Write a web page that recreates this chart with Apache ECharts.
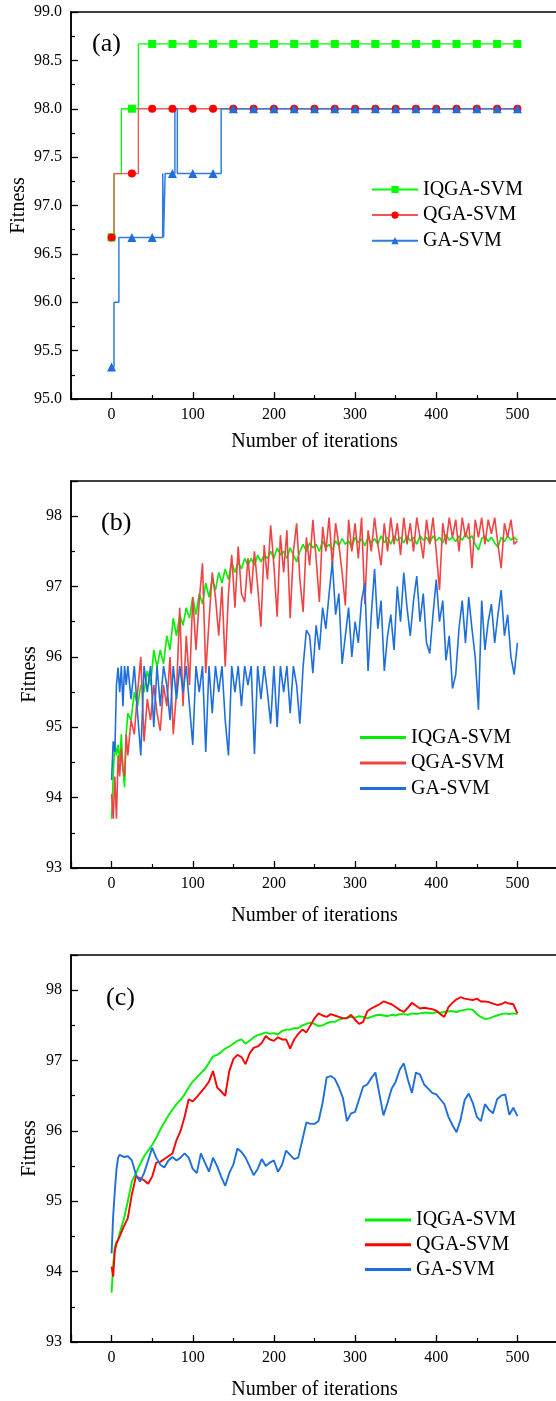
<!DOCTYPE html>
<html><head><meta charset="utf-8">
<script src="https://cdn.jsdelivr.net/npm/echarts@6/dist/echarts.min.js"></script>
<style>html,body{margin:0;padding:0;background:#fff}#c{width:556px;height:1401px}</style>
</head><body><div id="c"></div>
<script>
// ---------- names ----------
const algoNames = ['IQGA-SVM', 'QGA-SVM', 'GA-SVM'];
const panelLabels = ['(a)', '(b)', '(c)'];
const xAxisTitle = 'Number of iterations';
const yAxisTitle = 'Fitness';

// ---------- panel (a): step curves (x where a level starts, level) ----------
const aIqgaStepX = [0, 3, 12, 33, 500];
const aIqgaStepY = [96.67, 97.33, 98.0, 98.67, 98.67];
const aQgaStepX = [0, 3, 33, 500];
const aQgaStepY = [96.67, 97.33, 98.0, 98.0];
const aGaStepX = [0, 3, 9, 63, 64, 66, 78, 81, 135, 500];
const aGaStepY = [95.33, 96.0, 96.67, 97.33, 96.67, 97.33, 98.0, 97.33, 98.0, 98.0];
// marker positions (every 25 iterations) and their values
const aMarkX = [0, 25, 50, 75, 100, 125, 150, 175, 200, 225, 250, 275, 300, 325, 350, 375, 400, 425, 450, 475, 500];
const aIqgaMark = [96.67, 98.0, 98.67, 98.67, 98.67, 98.67, 98.67, 98.67, 98.67, 98.67, 98.67, 98.67, 98.67, 98.67, 98.67, 98.67, 98.67, 98.67, 98.67, 98.67, 98.67];
const aQgaMark = [96.67, 97.33, 98.0, 98.0, 98.0, 98.0, 98.0, 98.0, 98.0, 98.0, 98.0, 98.0, 98.0, 98.0, 98.0, 98.0, 98.0, 98.0, 98.0, 98.0, 98.0];
const aGaMark = [95.33, 96.67, 96.67, 97.33, 97.33, 97.33, 98.0, 98.0, 98.0, 98.0, 98.0, 98.0, 98.0, 98.0, 98.0, 98.0, 98.0, 98.0, 98.0, 98.0, 98.0];

// ---------- panel (b) ----------
const bX = [0,2,4,6,8,10,12,14,16,18,20,24,28,32,36,40,44,48,52,56,60,64,68,72,76,80,84,88,92,96,100,104,108,112,116,120,124,128,132,136,140,144,148,152,156,160,164,168,172,176,180,184,188,192,196,200,204,208,212,216,220,224,228,232,236,240,244,248,252,256,260,264,268,272,276,280,284,288,292,296,300,304,308,312,316,320,324,328,332,336,340,344,348,352,356,360,364,368,372,376,380,384,388,392,396,400,404,408,412,416,420,424,428,432,436,440,444,448,452,456,460,464,468,472,476,480,484,488,492,496,500];
const bIqga = [93.7,94.3,94.8,94.6,94.75,94.5,94.9,94.4,94.15,94.9,95.2,
95.1,95.5,95.3,95.6,95.5,95.8,95.6,96.1,95.85,96.1,95.9,96.3,96.1,96.55,96.3,96.6,96.45,96.7,96.55,96.85,
96.6,96.9,96.75,97.05,96.85,97.1,96.95,97.2,97.05,97.25,97.1,97.35,97.2,97.35,97.25,97.4,97.3,97.4,97.3,97.45,97.35,97.45,97.4,97.5,97.4,
97.55,97.45,97.5,97.4,97.55,97.45,97.35,97.5,97.6,97.5,97.62,97.55,97.6,97.5,97.65,97.55,97.6,97.52,97.65,97.58,97.68,97.6,97.65,97.55,97.7,
97.62,97.68,97.58,97.7,97.62,97.68,97.6,97.72,97.62,97.7,97.6,97.72,97.65,97.7,97.62,97.72,97.65,97.7,97.6,97.72,97.66,97.7,97.62,97.72,97.65,
97.7,97.62,97.74,97.66,97.7,97.64,97.72,97.66,97.75,97.68,97.72,97.6,97.52,97.68,97.72,97.64,97.7,97.62,97.56,97.7,97.64,97.72,97.66,97.7,97.66];
const bQga = [94.05,93.7,94.3,93.7,94.6,94.3,94.7,94.4,94.3,94.9,94.6,
95.1,94.9,95.5,96.0,94.8,95.4,95.1,95.6,95.2,94.95,95.6,95.3,96.0,94.9,95.5,96.7,95.3,96.3,95.6,96.85,
96.1,96.8,97.33,95.77,96.5,97.2,96.85,96.3,97.0,95.86,96.9,97.45,96.7,97.57,96.9,96.78,97.4,96.9,97.5,97.0,96.43,97.59,97.1,97.87,97.3,
96.57,97.73,97.2,97.8,96.55,97.5,97.9,97.1,96.64,97.7,97.3,97.95,97.4,96.78,97.85,97.5,97.98,97.3,97.9,97.6,97.2,96.73,97.95,97.5,97.9,
97.4,97.98,96.75,97.8,97.5,97.98,97.6,97.3,97.9,97.5,97.98,97.6,97.9,97.45,97.98,97.6,97.9,97.5,97.98,97.7,97.4,97.95,97.6,97.98,97.5,
96.95,97.9,97.6,97.98,97.7,97.95,97.5,97.98,97.7,97.9,97.26,97.95,97.7,97.98,97.6,97.95,97.75,97.98,97.6,97.26,97.9,97.7,97.95,97.6,97.65];
const bGa = [94.25,94.8,94.65,95.6,95.85,95.5,95.87,95.3,95.87,95.6,95.87,
95.4,95.87,95.2,94.6,95.87,95.5,95.87,95.0,95.87,95.3,95.87,95.6,95.1,95.87,95.4,95.87,95.5,95.87,95.3,94.75,
95.87,95.5,95.87,94.65,95.87,95.2,95.87,95.5,95.87,95.1,94.6,95.87,95.5,95.87,95.3,95.87,95.6,95.87,94.62,95.87,95.4,95.87,95.5,95.05,95.87,
95.0,95.87,95.5,95.87,95.2,95.87,95.6,95.05,95.87,96.38,96.3,95.77,96.45,96.1,96.7,96.4,96.9,97.35,96.6,96.9,95.9,96.3,96.7,96.0,96.5,
96.2,96.8,97.05,95.8,96.6,97.25,96.4,96.8,95.8,96.3,96.6,96.1,97.0,96.5,97.2,96.7,96.3,96.8,97.15,96.5,96.9,96.2,96.05,96.6,97.1,
96.5,96.8,95.95,96.3,95.55,95.75,96.4,96.8,96.2,96.85,96.4,96.0,95.25,96.8,96.1,96.5,96.75,96.2,96.6,96.95,96.3,96.6,96.0,95.75,96.2];

// ---------- panel (c) ----------
const cX = [0,2,4,6,8,10,15,20,25,30,35,40,45,50,55,60,65,70,75,80,85,90,95,100,105,110,115,120,125,130,135,140,145,150,155,160,165,170,175,180,185,190,195,200,205,210,215,220,225,230,235,240,245,250,255,260,265,270,275,280,285,290,295,300,305,310,315,320,325,330,335,340,345,350,355,360,365,370,375,380,385,390,395,400,405,410,415,420,425,430,435,440,445,450,455,460,465,470,475,480,485,490,495,500];
const cIqga = [93.7,94.1,94.35,94.42,94.45,94.55,94.74,95.0,95.28,95.4,95.52,95.64,95.72,95.8,95.9,96.02,96.12,96.22,96.3,96.38,96.44,96.52,96.62,96.7,
96.76,96.82,96.88,96.97,97.06,97.08,97.12,97.17,97.2,97.24,97.28,97.3,97.24,97.28,97.33,97.36,97.38,97.4,97.38,97.39,
97.37,97.42,97.44,97.44,97.46,97.46,97.5,97.52,97.54,97.52,97.49,97.5,97.53,97.55,97.55,97.58,97.6,97.61,97.62,97.61,
97.63,97.62,97.6,97.62,97.64,97.65,97.64,97.63,97.65,97.64,97.66,97.66,97.65,97.67,97.66,97.67,97.68,97.68,97.67,97.69,
97.68,97.69,97.7,97.7,97.69,97.71,97.72,97.73,97.72,97.66,97.62,97.59,97.6,97.62,97.64,97.66,97.67,97.66,97.67,97.66];
const cQga = [94.07,93.93,94.3,94.4,94.45,94.5,94.64,94.76,95.1,95.35,95.33,95.3,95.25,95.35,95.55,95.56,95.6,95.64,95.68,95.87,96.0,96.2,96.45,96.42,
96.48,96.55,96.62,96.7,96.85,96.62,96.56,96.5,96.85,97.02,97.08,97.05,96.95,97.1,97.18,97.2,97.25,97.35,97.3,97.28,
97.33,97.3,97.3,97.17,97.3,97.38,97.44,97.4,97.5,97.6,97.67,97.64,97.62,97.66,97.64,97.62,97.6,97.6,97.65,97.58,
97.52,97.55,97.7,97.74,97.77,97.8,97.84,97.82,97.8,97.76,97.72,97.69,97.75,97.82,97.78,97.74,97.75,97.74,97.73,97.71,
97.66,97.62,97.76,97.82,97.87,97.9,97.88,97.87,97.86,97.88,97.84,97.84,97.83,97.81,97.79,97.8,97.83,97.81,97.8,97.67];
const cGa = [94.26,94.8,95.15,95.45,95.62,95.66,95.63,95.64,95.58,95.38,95.28,95.4,95.58,95.76,95.62,95.52,95.48,95.58,95.63,95.58,95.62,95.68,95.62,95.46,
95.4,95.68,95.55,95.42,95.62,95.5,95.35,95.22,95.4,95.52,95.75,95.7,95.62,95.5,95.37,95.46,95.6,95.5,95.55,95.58,
95.42,95.52,95.72,95.66,95.6,95.62,95.87,96.12,96.1,96.1,96.14,96.4,96.76,96.78,96.74,96.62,96.47,96.14,96.25,96.27,
96.45,96.63,96.66,96.75,96.83,96.52,96.22,96.4,96.6,96.7,96.87,96.96,96.73,96.54,96.83,96.8,96.66,96.6,96.54,96.52,
96.45,96.38,96.2,96.08,95.98,96.16,96.44,96.53,96.4,96.2,96.14,96.38,96.3,96.25,96.45,96.5,96.52,96.23,96.33,96.21];

// ---------- helpers ----------
const F = 'Liberation Serif';
const BLACK = '#000';
function pairs(xs, ys) { return xs.map((x, i) => [x, ys[i]]); }
function stepWithMarks(sx, sy, mx, my) {
  const pts = [];
  for (let i = 0; i < sx.length; i++) if (mx.indexOf(sx[i]) < 0) pts.push({ value: [sx[i], sy[i]], symbol: 'none' });
  for (let i = 0; i < mx.length; i++) pts.push({ value: [mx[i], my[i]] });
  pts.sort((p, q) => p.value[0] - q.value[0]);
  return pts;
}
function xAx(gi, nameGap) {
  return {
    type: 'value', gridIndex: gi, min: -50, max: 550, minInterval: 100, maxInterval: 100,
    name: xAxisTitle, nameLocation: 'middle', nameGap: nameGap,
    nameTextStyle: { fontFamily: F, fontSize: 20, color: BLACK },
    axisLine: { show: true, onZero: false, lineStyle: { color: BLACK, width: 1.5 } },
    axisTick: { show: true, inside: true, length: 7, lineStyle: { color: BLACK, width: 1.3 } },
    minorTick: { show: true, splitNumber: 2, length: 4, lineStyle: { color: BLACK, width: 1.2 } },
    splitLine: { show: false }, minorSplitLine: { show: false },
    axisLabel: { fontFamily: F, fontSize: 16, color: BLACK, margin: 8,
      formatter: v => (v >= 0 && v <= 500) ? String(v) : '' }
  };
}
function yAx(gi, min, max, interval, fmt, nameGap) {
  return {
    type: 'value', gridIndex: gi, min: min, max: max, interval: interval,
    name: yAxisTitle, nameLocation: 'middle', nameGap: nameGap, nameMoveOverlap: false,
    nameTextStyle: { fontFamily: F, fontSize: 20, color: BLACK },
    axisLine: { show: true, onZero: false, lineStyle: { color: BLACK, width: 1.5 } },
    axisTick: { show: true, inside: true, length: 7, lineStyle: { color: BLACK, width: 1.3 } },
    minorTick: { show: true, splitNumber: 2, length: 4, lineStyle: { color: BLACK, width: 1.2 } },
    splitLine: { show: false }, minorSplitLine: { show: false },
    axisLabel: { fontFamily: F, fontSize: 16, color: BLACK, margin: 9, formatter: fmt }
  };
}
function grid(top) {
  return { left: 71, right: -2, top: top, height: 387, show: true, borderColor: BLACK, borderWidth: 1.5,
    backgroundColor: 'transparent', containLabel: false, outerBoundsMode: 'none' };
}
function legend(prefix, left, top, itemHeight, gap, icon) {
  const l = {
    orient: 'vertical', left: left, top: top, padding: 0, itemWidth: 46, itemHeight: itemHeight, itemGap: gap,
    selectedMode: false, data: algoNames.map(n => prefix + n),
    formatter: n => n.slice(prefix.length),
    textStyle: { fontFamily: F, fontSize: 20, color: BLACK }
  };
  if (icon) l.icon = icon;
  return l;
}

const colA = { green: '#00ff00', redLine: '#f25555', redMark: '#ff0000', blueLine: '#2f7de0', blueMark: '#1f6fdb' };
const colB = { green: '#00f000', red: '#f04444', blue: '#1f6fdb' };
const colC = { green: '#00f000', red: '#ff0000', blue: '#1f6fdb' };

const series = [
  // (a)
  { name: 'a:' + algoNames[0], type: 'line', xAxisIndex: 0, yAxisIndex: 0, step: 'end', symbol: 'rect', symbolSize: 8,
    showAllSymbol: true, data: stepWithMarks(aIqgaStepX, aIqgaStepY, aMarkX, aIqgaMark),
    lineStyle: { color: colA.green, width: 1.3 }, itemStyle: { color: colA.green } },
  { name: 'a:' + algoNames[1], type: 'line', xAxisIndex: 0, yAxisIndex: 0, step: 'end', symbol: 'circle', symbolSize: 8,
    showAllSymbol: true, data: stepWithMarks(aQgaStepX, aQgaStepY, aMarkX, aQgaMark),
    lineStyle: { color: colA.redLine, width: 1.3 }, itemStyle: { color: colA.redMark } },
  { name: 'a:' + algoNames[2], type: 'line', xAxisIndex: 0, yAxisIndex: 0, step: 'end', symbol: 'triangle', symbolSize: 9,
    showAllSymbol: true, data: stepWithMarks(aGaStepX, aGaStepY, aMarkX, aGaMark),
    lineStyle: { color: colA.blueLine, width: 1.5 }, itemStyle: { color: colA.blueMark } },
  // (b)
  { name: 'b:' + algoNames[0], type: 'line', xAxisIndex: 1, yAxisIndex: 1, symbol: 'none', data: pairs(bX, bIqga),
    lineStyle: { color: colB.green, width: 1.6 }, itemStyle: { color: colB.green } },
  { name: 'b:' + algoNames[1], type: 'line', xAxisIndex: 1, yAxisIndex: 1, symbol: 'none', data: pairs(bX, bQga),
    lineStyle: { color: colB.red, width: 1.6 }, itemStyle: { color: colB.red } },
  { name: 'b:' + algoNames[2], type: 'line', xAxisIndex: 1, yAxisIndex: 1, symbol: 'none', data: pairs(bX, bGa),
    lineStyle: { color: colB.blue, width: 1.6 }, itemStyle: { color: colB.blue } },
  // (c)
  { name: 'c:' + algoNames[0], type: 'line', xAxisIndex: 2, yAxisIndex: 2, symbol: 'none', data: pairs(cX, cIqga),
    lineStyle: { color: colC.green, width: 1.9 }, itemStyle: { color: colC.green } },
  { name: 'c:' + algoNames[1], type: 'line', xAxisIndex: 2, yAxisIndex: 2, symbol: 'none', data: pairs(cX, cQga),
    lineStyle: { color: colC.red, width: 1.9 }, itemStyle: { color: colC.red } },
  { name: 'c:' + algoNames[2], type: 'line', xAxisIndex: 2, yAxisIndex: 2, symbol: 'none', data: pairs(cX, cGa),
    lineStyle: { color: colC.blue, width: 1.9 }, itemStyle: { color: colC.blue } }
];

const intFmt = v => (Math.abs(v - Math.round(v)) < 1e-9) ? String(Math.round(v)) : '';

const option = {
  backgroundColor: '#fff',
  animation: false,
  grid: [grid(12), grid(481), grid(955)],
  xAxis: [xAx(0, 33), xAx(1, 38), xAx(2, 38)],
  yAxis: [
    yAx(0, 95, 99, 0.5, v => v.toFixed(1), 42),
    yAx(1, 93, 98.5, 1, intFmt, 31),
    yAx(2, 93, 98.5, 1, intFmt, 31)
  ],
  legend: [
    legend('a:', 371, 179.5, 9, 5.6, null),
    legend('b:', 360, 727.5, 3, 5.5, 'rect'),
    legend('c:', 365, 1210, 3, 4.7, 'rect')
  ],
  graphic: [
    { type: 'text', left: 92, top: 31, style: { text: panelLabels[0], font: '26px "Liberation Serif"', fill: BLACK } },
    { type: 'text', left: 101, top: 510, style: { text: panelLabels[1], font: '26px "Liberation Serif"', fill: BLACK } },
    { type: 'text', left: 106, top: 985, style: { text: panelLabels[2], font: '26px "Liberation Serif"', fill: BLACK } }
  ],
  series: series
};

const chart = echarts.init(document.getElementById('c'), null, { renderer: 'canvas', width: 556, height: 1401 });
chart.setOption(option);
</script>
</body></html>
